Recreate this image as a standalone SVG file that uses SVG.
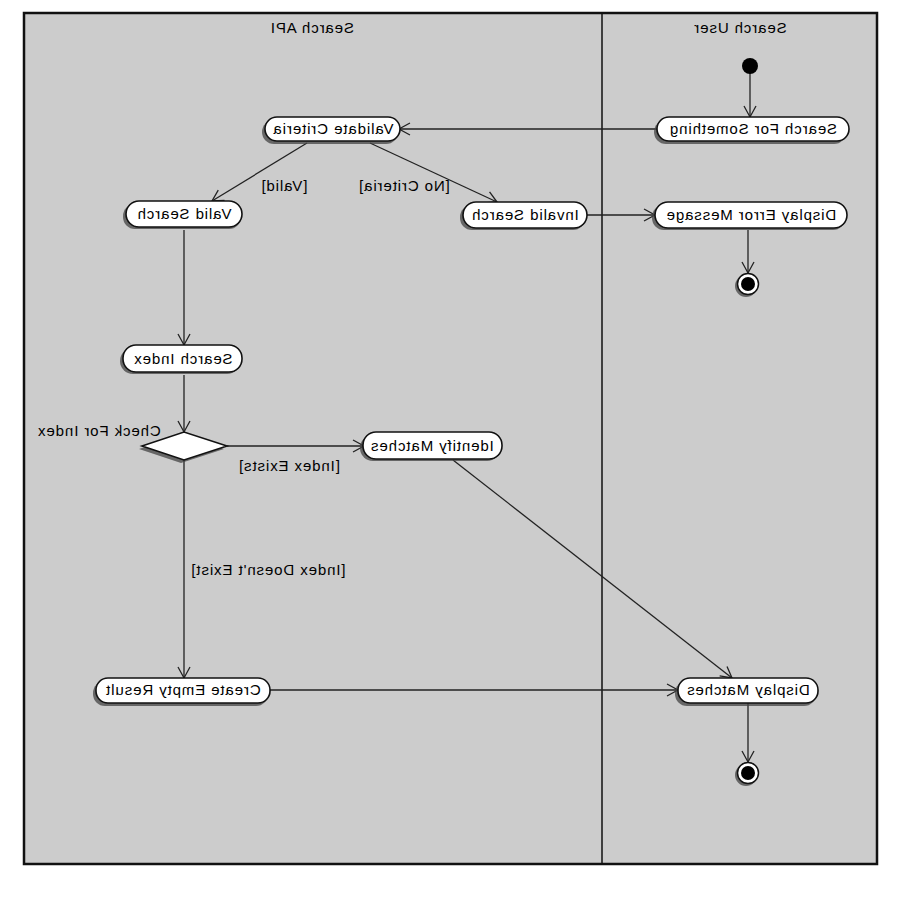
<svg xmlns="http://www.w3.org/2000/svg" width="900" height="900" viewBox="0 0 900 900">
<style>
.lane{fill:#cccccc;stroke:#111;stroke-width:2.5}
.div{stroke:#111;stroke-width:1.5}
.node{fill:#fff;stroke:#111;stroke-width:1.6}
.shadow{fill:#444;opacity:0.75}
.t{font-family:"Liberation Sans",Arial,sans-serif;font-size:15px;letter-spacing:0.9px;fill:#000;text-anchor:middle}
.conn{stroke:#222;stroke-width:1.3;fill:none}
</style>
<defs>
<marker id="arr" markerUnits="userSpaceOnUse" markerWidth="14" markerHeight="14" refX="12" refY="7" orient="auto">
<path d="M1,1 L12,7 L1,13" fill="none" stroke="#222" stroke-width="1.3"/>
</marker>
</defs>
<rect class="lane" x="24" y="13" width="853" height="851"/>
<line class="div" x1="602" y1="13" x2="602" y2="864"/>
<text class="t" transform="translate(312,33) scale(-1,1)">Search API</text>
<text class="t" transform="translate(740,33) scale(-1,1)">Search User</text>

<g id="connectors">
<line class="conn" x1="750" y1="72" x2="750" y2="117" marker-end="url(#arr)"/>
<line class="conn" x1="657" y1="129" x2="399" y2="129" marker-end="url(#arr)"/>
<line class="conn" x1="307" y1="143" x2="212" y2="201" marker-end="url(#arr)"/>
<line class="conn" x1="370" y1="143" x2="497" y2="202" marker-end="url(#arr)"/>
<line class="conn" x1="587" y1="215" x2="655" y2="215" marker-end="url(#arr)"/>
<line class="conn" x1="748" y1="230" x2="748" y2="273" marker-end="url(#arr)"/>
<line class="conn" x1="184" y1="230" x2="184" y2="345" marker-end="url(#arr)"/>
<line class="conn" x1="184" y1="375" x2="184" y2="432" marker-end="url(#arr)"/>
<line class="conn" x1="227" y1="446" x2="364" y2="446" marker-end="url(#arr)"/>
<line class="conn" x1="453" y1="460" x2="732" y2="678" marker-end="url(#arr)"/>
<line class="conn" x1="184" y1="460" x2="184" y2="678" marker-end="url(#arr)"/>
<line class="conn" x1="270" y1="690" x2="678" y2="690" marker-end="url(#arr)"/>
<line class="conn" x1="748" y1="703" x2="748" y2="762" marker-end="url(#arr)"/>
<text class="t" transform="translate(284,191) scale(-1,1)">[Valid]</text>
<text class="t" transform="translate(404,191) scale(-1,1)">[No Criteria]</text>
<text class="t" transform="translate(289,471) scale(-1,1)">[Index Exists]</text>
<text class="t" transform="translate(268,575) scale(-1,1)">[Index Doesn't Exist]</text>
</g>

<g id="start"><circle cx="750" cy="66" r="8" fill="#000"/></g>

<g id="search-for-something">
<rect class="shadow" x="654" y="120" width="192" height="24" rx="12"/>
<rect class="node" x="657" y="117" width="192" height="24" rx="12"/>
<text class="t" transform="translate(753,134) scale(-1,1)">Search For Something</text>
</g>
<g id="validate-criteria">
<rect class="shadow" x="262" y="120" width="136" height="24" rx="12"/>
<rect class="node" x="265" y="117" width="135" height="24" rx="12"/>
<text class="t" transform="translate(333,134) scale(-1,1)">Validate Criteria</text>
</g>
<g id="valid-search">
<rect class="shadow" x="123" y="204" width="118" height="25" rx="12"/>
<rect class="node" x="126" y="201" width="116" height="26" rx="13"/>
<text class="t" transform="translate(184,219) scale(-1,1)">Valid Search</text>
</g>
<g id="invalid-search">
<rect class="shadow" x="460" y="205" width="125" height="25" rx="12"/>
<rect class="node" x="463" y="202" width="124" height="26" rx="13"/>
<text class="t" transform="translate(525,220) scale(-1,1)">Invalid Search</text>
</g>
<g id="display-error-message">
<rect class="shadow" x="652" y="205" width="193" height="25" rx="12"/>
<rect class="node" x="655" y="202" width="192" height="26" rx="13"/>
<text class="t" transform="translate(751,220) scale(-1,1)">Display Error Message</text>
</g>
<g id="final-1">
<circle cx="746" cy="286" r="11" fill="#444" opacity="0.75"/>
<circle cx="748" cy="284" r="10.5" fill="#fff" stroke="#111" stroke-width="1.5"/>
<circle cx="748" cy="284" r="7" fill="#000"/>
</g>
<g id="search-index">
<rect class="shadow" x="120" y="348" width="120" height="26" rx="13"/>
<rect class="node" x="123" y="345" width="119" height="27" rx="13"/>
<text class="t" transform="translate(183,364) scale(-1,1)">Search Index</text>
</g>
<g id="check-for-index">
<polygon class="shadow" points="139,449 181,435 224,449 181,463"/>
<polygon class="node" points="142,446 184,432 227,446 184,460"/>
<text class="t" transform="translate(99,436) scale(-1,1)">Check For Index</text>
</g>
<g id="identify-matches">
<rect class="shadow" x="360" y="435" width="140" height="26" rx="13"/>
<rect class="node" x="363" y="432" width="139" height="27" rx="13"/>
<text class="t" transform="translate(432,451) scale(-1,1)">Identify Matches</text>
</g>
<g id="create-empty-result">
<rect class="shadow" x="93" y="681" width="175" height="25" rx="12"/>
<rect class="node" x="96" y="678" width="174" height="25" rx="12"/>
<text class="t" transform="translate(183,695) scale(-1,1)">Create Empty Result</text>
</g>
<g id="display-matches">
<rect class="shadow" x="675" y="681" width="141" height="25" rx="12"/>
<rect class="node" x="678" y="678" width="140" height="25" rx="12"/>
<text class="t" transform="translate(748,695) scale(-1,1)">Display Matches</text>
</g>
<g id="final-2">
<circle cx="746" cy="775" r="11" fill="#444" opacity="0.75"/>
<circle cx="748" cy="773" r="10.5" fill="#fff" stroke="#111" stroke-width="1.5"/>
<circle cx="748" cy="773" r="7" fill="#000"/>
</g>
</svg>
